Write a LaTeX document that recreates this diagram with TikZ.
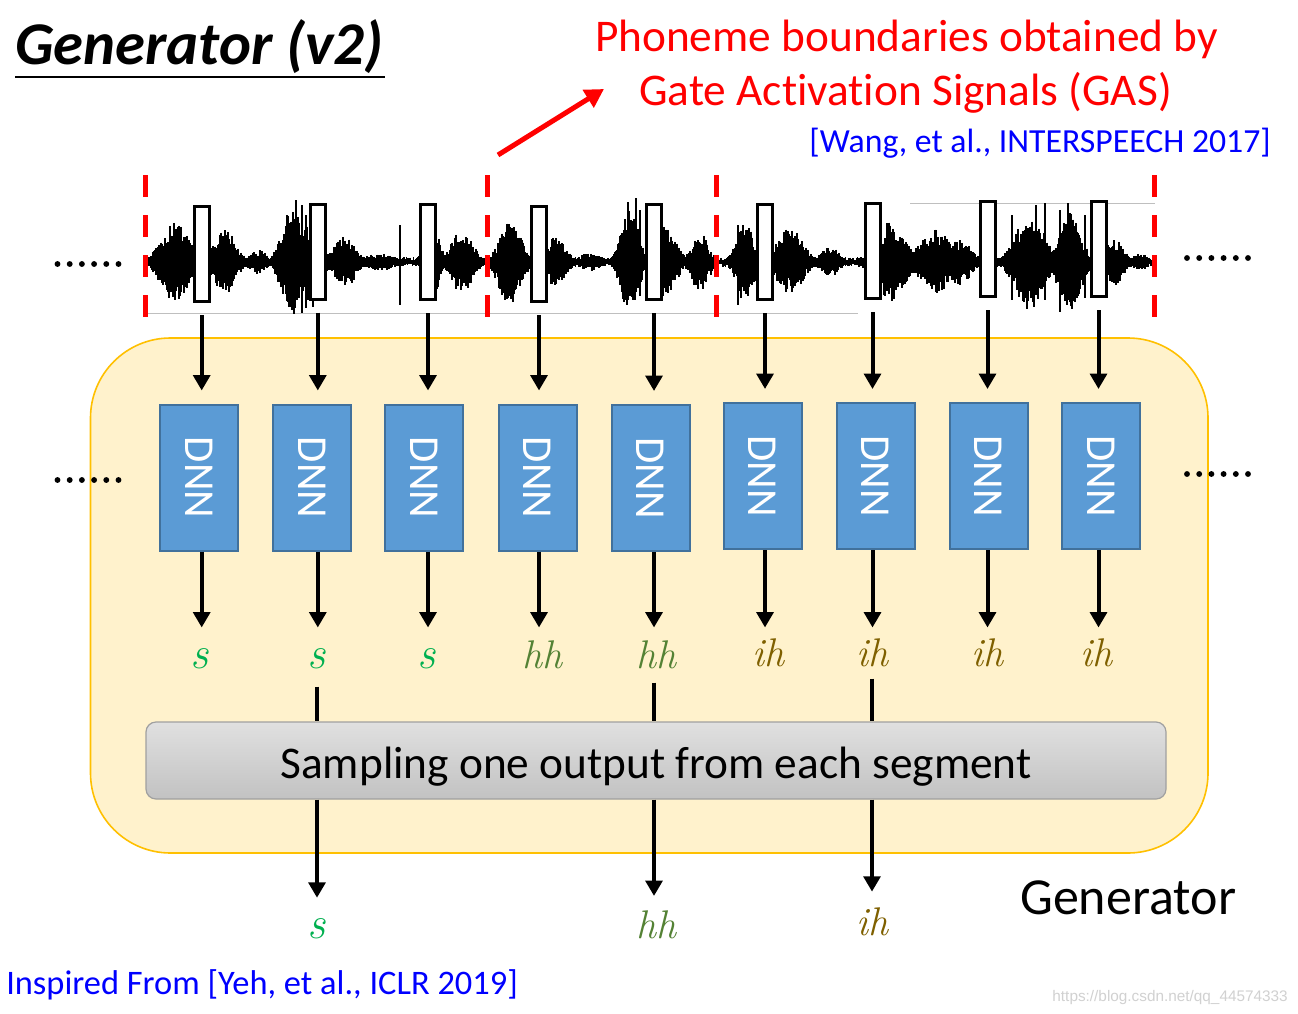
\documentclass[tikz,border=0pt]{standalone}
\usepackage{fontspec}
\usepackage{graphicx}
\setmainfont{Carlito}[Ligatures=NoCommon]
\newfontfamily\lmserif{Latin Modern Roman}
\newfontfamily\wmfont{Liberation Sans}
\usetikzlibrary{arrows.meta,calc}
\definecolor{dnnfill}{HTML}{5B9BD5}
\definecolor{dnnline}{HTML}{41719C}
\definecolor{genfill}{HTML}{FFF2CC}
\definecolor{genline}{HTML}{FFC000}
\definecolor{sgreen}{HTML}{00B050}
\definecolor{hhgreen}{HTML}{548235}
\definecolor{ihbrown}{HTML}{7F6000}
\definecolor{refblue}{HTML}{0000FF}
\definecolor{refred}{HTML}{FF0000}
\definecolor{sampline}{HTML}{A0A0A0}
\definecolor{edgegray}{HTML}{BFBFBF}
\tikzset{
 frame/.style={draw=black, line width=2.25pt, fill=white, inner sep=0pt, minimum width=11.25pt, minimum height=71.25pt},
 dnn/.style={draw=dnnline, line width=1.5pt, fill=dnnfill, inner sep=0pt, minimum width=58.5pt, minimum height=109.5pt, text=white, font=\fontsize{32}{32}\selectfont},
 arr/.style={line width=3pt, -{Triangle[width=12.5pt,length=11.5pt]}},
 seg/.style={line width=3pt},
 lab/.style={inner sep=0pt, anchor=base, font=\lmserif\itshape\fontsize{30}{30}\selectfont},
 slab/.style={inner sep=0pt, anchor=base, font=\lmserif\itshape\fontsize{34}{34}\selectfont},
 wave/.style={line width=1.25pt},
 gasline/.style={refred, line width=3.75pt, dash pattern=on 16.5pt off 13.5pt},
 dotmark/.style={fill=black},
 sampbox/.style={draw=sampline, line width=0.9pt, rounded corners=7.5pt, top color={rgb,255:red,224;green,224;blue,224}, bottom color={rgb,255:red,194;green,194;blue,194}, minimum width=765pt, minimum height=57.75pt, inner sep=0pt},
}
\begin{document}
\begin{tikzpicture}[x=0.75pt,y=-0.75pt]
\useasboundingbox (0,0) rectangle (1298,1013);
\fill[white] (0,0) rectangle (1298,1013);

% title
\node[anchor=base west, inner sep=0pt, font=\fontsize{45.5}{45.5}\selectfont\bfseries\itshape] (title) at (15,65) {Generator (v2)};
\draw[line width=2.2pt] (15,77) -- (385,77);

% red notes
\node[anchor=base, inner sep=0pt, text=refred, font=\fontsize{34}{34}\selectfont] (gas1) at (906.5,52) {Phoneme boundaries obtained by};
\node[anchor=base, inner sep=0pt, text=refred, font=\fontsize{34}{34}\selectfont] (gas2) at (905.5,106) {Gate Activation Signals (GAS)};
\node[anchor=base east, inner sep=0pt, text=refblue, font=\fontsize{25.3}{25.3}\selectfont] (wang) at (1271,152) {[Wang, et al., INTERSPEECH 2017]};
\coordinate (gastail) at (498,155);
\coordinate (gastip) at (604,89);
\draw[refred, line width=3.75pt, -{Triangle[width=15pt,length=14pt]}] (gastail) -- (gastip);

% generator box
\draw[fill=genfill, draw=genline, line width=1.2pt, rounded corners=60pt] (90.5,338) rectangle (1208,853);

% image edge lines
\draw[edgegray, line width=0.75pt] (145,313) -- (858,313);
\draw[edgegray, line width=0.75pt] (910,203) -- (1155,203);

% waveform
\begin{scope}
\clip (145,150) rectangle (1155,320);
\pgfmathsetseed{4242}
\draw[line width=1.8pt] (145,262) -- (1155,262);
\foreach \x in {146,147.2,...,1154}{
  \draw[wave] (\x,{262-1.5-3.5*rnd}) -- (\x,{262+1.5+3.5*rnd});
}
\foreach \c/\w/\A in {175/18/42, 160/8/22, 225/15/32, 258/12/12, 292/14/55, 312/12/46, 345/15/26, 380/20/9, 432/10/42, 462/15/32, 510/15/44, 555/15/24, 590/15/9, 630/12/52, 665/15/36, 700/12/30, 745/12/40, 790/18/34, 830/12/16, 890/20/40, 935/20/34, 960/15/24, 1030/20/48, 1070/15/50, 1115/12/24, 1140/10/9}{
  \pgfmathsetmacro\xa{\c-2*\w}
  \pgfmathsetmacro\xn{\c-2*\w+1}
  \pgfmathsetmacro\xb{\c+2*\w}
  \foreach \x in {\xa,\xn,...,\xb}{
    \pgfmathsetmacro\env{\A*exp(-(\x-\c)*(\x-\c)/(\w*\w))}
    \draw[wave] (\x,{262-\env*(0.45+0.55*rnd)}) -- (\x,{262+\env*(0.45+0.55*rnd)});
  }
}
% a few spikes
\foreach \x/\t/\b in {296/200/300, 302/205/313, 306/215/308, 400/225/305, 628/202/300, 636/198/292, 640/210/296, 738/225/305, 1012/215/300, 1036/205/295, 1045/203/300, 1060/210/312, 1068/203/300, 1085/215/298}{
  \draw[wave] (\x,\t) -- (\x,\b);
}
\end{scope}

% GAS boundaries
\foreach \gx in {145,487,716.5,1154}{
  \draw[gasline] (\gx,175) -- (\gx,318);
}

% dots
\foreach \i in {0,...,5}{
  \fill[dotmark] (57.5+12.2*\i,264) circle (2.2pt);
  \fill[dotmark] (57.5+12.2*\i,480) circle (2.2pt);
  \fill[dotmark] (1187+12.2*\i,258) circle (2.2pt);
  \fill[dotmark] (1187+12.2*\i,474) circle (2.2pt);
}

% frames and DNNs
\coordinate (lrow) at (0,627.5);
\foreach \i/\fx/\fy/\dx/\dy in {1/201.7/254/199/477.5, 2/317.8/251.7/311.7/477.5, 3/428/252.4/424/477.5, 4/539/254/537.5/477.5, 5/654/252/650.5/478, 6/765/252/762.5/476, 7/872.5/251/875.5/476, 8/987.5/249.4/988.5/476, 9/1098.5/249.4/1101/476}{
  \node[frame] (f\i) at (\fx,\fy) {};
  \node[dnn] (d\i) at (\dx,\dy) {\rotatebox{-90}{DNN}};
  \draw[arr] ([yshift=-9pt]f\i.south) -- ([yshift=9.75pt]f\i.south |- d\i.north);
  \draw[arr] (f\i.south |- d\i.south) -- (f\i.south |- lrow);
}

% per-frame labels
\node[slab, text=sgreen] (l1) at (200,668) {s};
\node[slab, text=sgreen] (l2) at (317,668) {s};
\node[slab, text=sgreen] (l3) at (427,668) {s};
\node[lab, text=hhgreen] (l4) at (542,668) {hh};
\node[lab, text=hhgreen] (l5) at (656,668) {hh};
\node[lab, text=ihbrown] (l6) at (768,666) {ih};
\node[lab, text=ihbrown] (l7) at (872,666) {ih};
\node[lab, text=ihbrown] (l8) at (987,666) {ih};
\node[lab, text=ihbrown] (l9) at (1096,666) {ih};

% sampling box
\node[sampbox] (S) at (656,760.5) {};
\node[anchor=base, inner sep=0pt, font=\fontsize{34}{34}\selectfont] (Stext) at (656,778) {Sampling one output from each segment};

\draw[seg] ([yshift=-13.5pt]l2.south) -- (l2.south |- S.north);
\draw[seg] ([xshift=-1.5pt,yshift=-10.5pt]l5.south) -- ([xshift=-1.5pt]l5.south |- S.north);
\draw[seg] ([yshift=-9pt]l7.south) -- (l7.south |- S.north);

% outputs
\node[slab, text=sgreen] (o1) at (317,938) {s};
\node[lab, text=hhgreen] (o2) at (656,938) {hh};
\node[lab, text=ihbrown] (o3) at (872,935) {ih};

\draw[arr] (l2.south |- S.south) -- ([yshift=15pt]o1.north);
\draw[arr] ([xshift=-1.5pt]l5.south |- S.south) -- ([xshift=-1.5pt,yshift=10.5pt]o2.north);
\draw[arr] (l7.south |- S.south) -- ([yshift=11.5pt]o3.north);

% generator label and reference
\node[anchor=base west, inner sep=0pt, font=\fontsize{39}{39}\selectfont] (genlabel) at (1020,914) {Generator};
\node[anchor=base west, inner sep=0pt, text=refblue, font=\fontsize{25.8}{25.8}\selectfont] (yeh) at (6,994) {Inspired From [Yeh, et al., ICLR 2019]};
\node[anchor=base east, inner sep=0pt, text=black!18, font=\wmfont\fontsize{11.5}{11.5}\selectfont] (wm) at (1288,1001) {https://blog.csdn.net/qq\_44574333};
\end{tikzpicture}
\end{document}
